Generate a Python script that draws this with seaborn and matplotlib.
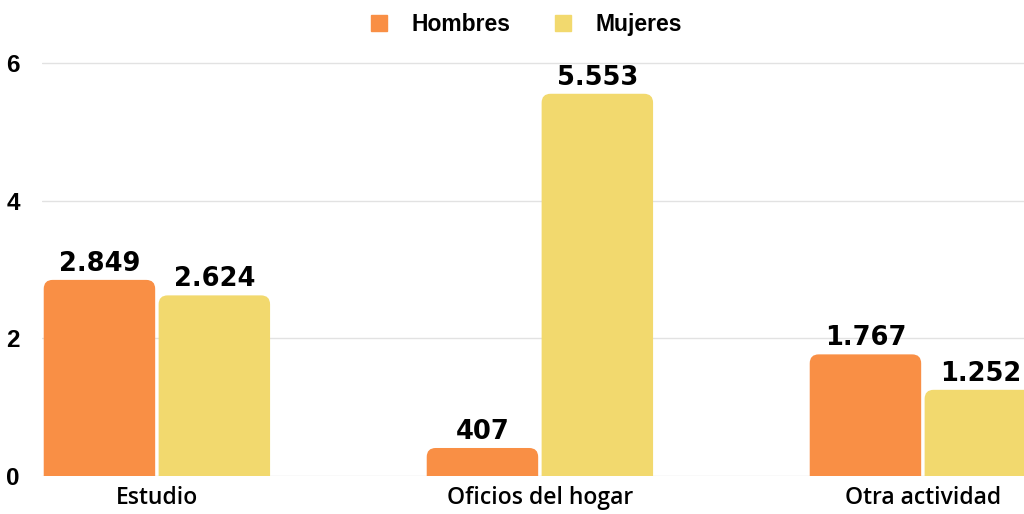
import matplotlib
matplotlib.use("Agg")
import matplotlib.pyplot as plt
from matplotlib.patches import FancyBboxPatch
from matplotlib.lines import Line2D
import seaborn as sns
import pandas as pd

categories = ["Estudio", "Oficios del hogar", "Otra actividad"]
hombres = [2849, 407, 1767]
mujeres = [2624, 5553, 1252]
series = ["Hombres", "Mujeres"]
colors = ["#F98F45", "#F2D96E"]
yticks = [0, 2, 4, 6]

def fmt(v):
    return f"{v:,}".replace(",", ".")

rows = []
for c, h, m in zip(categories, hombres, mujeres):
    rows.append({"cat": c, "serie": "Hombres", "val": h / 1000})
    rows.append({"cat": c, "serie": "Mujeres", "val": m / 1000})
df = pd.DataFrame(rows)

sns.set_theme(style="white")
plt.rcParams['font.family'] = ['Open Sans', 'DejaVu Sans']

fig = plt.figure(figsize=(10.24, 5.14), dpi=100)
px_per_y = (476 - 63) / 6.0
px_per_x = 383.0
ytop = 6.3
ax = fig.add_axes([42 / 1024, (514 - 476) / 514, 2.6 * px_per_x / 1024, ytop * px_per_y / 514])

sns.barplot(data=df, x="cat", y="val", hue="serie", order=categories, hue_order=series,
            palette=colors, width=0.6, gap=0.03, ax=ax, legend=False, saturation=1)

# rounded top corners
r = 9 / px_per_x
aspect = px_per_x / px_per_y
ry = r * aspect
patches = list(ax.patches)
for p in patches:
    x, y = p.get_x(), p.get_y()
    w, h = p.get_width(), p.get_height()
    fc = p.get_facecolor()
    p.remove()
    fb = FancyBboxPatch((x, y - ry), w, h + ry,
                        boxstyle=f"round,pad=0,rounding_size={r}",
                        mutation_aspect=aspect, facecolor=fc, edgecolor="none",
                        zorder=2)
    ax.add_patch(fb)
    raw = round(h * 1000)
    ax.text(x + w / 2, h + 3 / px_per_y, fmt(raw), ha="center", va="bottom",
            fontsize=18.5, fontweight="heavy", color="black", zorder=3,
            family=['DejaVu Sans'])

ax.set_xlim(-0.3, 2.3)
ax.set_ylim(0, ytop)
ax.set_yticks(yticks)
ax.set_yticklabels([str(t) for t in yticks], fontsize=17.5, fontweight="bold", color="black",
                   family=['Liberation Sans'])
ax.set_xticks(range(len(categories)))
ax.set_xticklabels(categories, fontsize=16.5, fontweight="semibold", color="black")
ax.tick_params(axis="y", length=0, pad=16)
ax.tick_params(axis="x", length=0, pad=7)
ax.grid(axis="y", color="#e2e2e2", linewidth=1, zorder=0)
ax.set_axisbelow(True)
for s in ax.spines.values():
    s.set_visible(False)
ax.set_xlabel("")
ax.set_ylabel("")
ax.set_facecolor("white")

handles = [Line2D([0], [0], marker="s", linestyle="none", markersize=11,
                  markerfacecolor=c, markeredgecolor=c) for c in colors]
fig.legend(handles, series, loc="upper center", bbox_to_anchor=(0.507, 1.015), ncol=2,
           frameon=False, prop={"size": 16.5, "weight": "bold", "family": "Liberation Sans"},
           handletextpad=0.4, columnspacing=1.3, labelcolor="black")

fig.savefig("out.png", dpi=100, facecolor="white")
